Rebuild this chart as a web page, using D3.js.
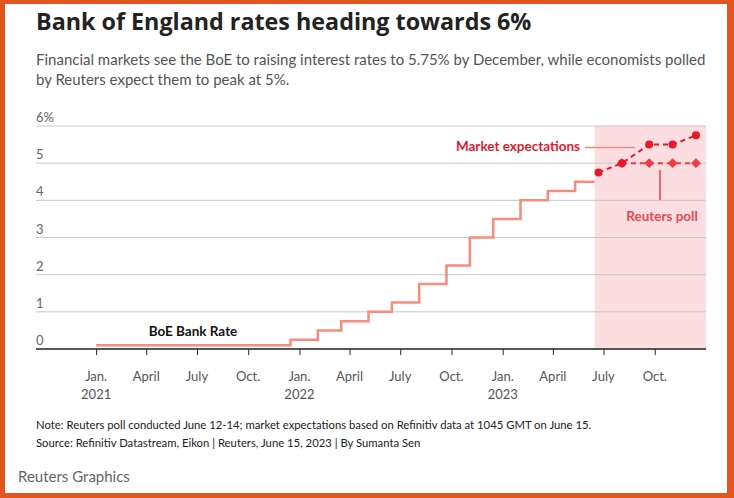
<html>
<head>
<script src="https://d3js.org/d3.v7.min.js"></script>
<style>
  body { margin: 0; background: #fff; }
  svg text { font-family: Lato, "Open Sans", sans-serif; }
</style>
</head>
<body>
<svg width="734" height="498"></svg>
<script>
// BoE bank rate, step changes
var rateDates = ["2021-01-01", "2021-12-16", "2022-02-03", "2022-03-17", "2022-05-05", "2022-06-16",
  "2022-08-04", "2022-09-22", "2022-11-03", "2022-12-15", "2023-02-02", "2023-03-23", "2023-05-11", "2023-06-15"];
var rateValues = [0.1, 0.25, 0.5, 0.75, 1.0, 1.25, 1.75, 2.25, 3.0, 3.5, 4.0, 4.25, 4.5, 4.5];

// forward meetings
var meetingDates = ["2023-06-22", "2023-08-03", "2023-09-21", "2023-11-02", "2023-12-14"];
var marketValues = [4.75, 5.0, 5.5, 5.5, 5.75];
var pollValues = [null, 5.0, 5.0, 5.0, 5.0];

var yTicks = [0, 1, 2, 3, 4, 5, 6];
var xTickDates = ["2021-01-01", "2021-04-01", "2021-07-01", "2021-10-01", "2022-01-01", "2022-04-01",
  "2022-07-01", "2022-10-01", "2023-01-01", "2023-04-01", "2023-07-01", "2023-10-01"];
var xTickLabels = [["Jan.", "2021"], ["April"], ["July"], ["Oct."], ["Jan.", "2022"], ["April"],
  ["July"], ["Oct."], ["Jan.", "2023"], ["April"], ["July"], ["Oct."]];

var parse = d3.timeParse("%Y-%m-%d");
var svg = d3.select("svg");

// orange frame
svg.append("rect").attr("x", 0).attr("y", 0).attr("width", 734).attr("height", 498).attr("fill", "#e0561c");
svg.append("rect").attr("x", 5).attr("y", 4).attr("width", 722).attr("height", 489).attr("fill", "#fff");

svg.append("text").attr("x", 36).attr("y", 30)
  .attr("font-size", 23.3).attr("font-weight", 700).attr("fill", "#222")
  .style("font-family", "'Open Sans', sans-serif")
  .text("Bank of England rates heading towards 6%");
svg.append("text").attr("x", 36).attr("y", 65).attr("font-size", 15).attr("fill", "#555")
  .text("Financial markets see the BoE to raising interest rates to 5.75% by December, while economists polled");
svg.append("text").attr("x", 36).attr("y", 85).attr("font-size", 15).attr("fill", "#555")
  .text("by Reuters expect them to peak at 5%.");

var x = d3.scaleTime().domain([parse("2020-09-15"), parse("2024-01-01")]).range([36, 706]);
var y = d3.scaleLinear().domain([0, 6]).range([349, 126]);

// forecast shading
svg.append("rect")
  .attr("x", x(parse("2023-06-15"))).attr("y", y(6))
  .attr("width", x(parse("2024-01-01")) - x(parse("2023-06-15")))
  .attr("height", y(0) - y(6))
  .attr("fill", "#fcdde0");

// gridlines
svg.append("g").selectAll("line").data(yTicks.filter(function (d) { return d > 0; })).enter()
  .append("line")
  .attr("x1", 36).attr("x2", 706)
  .attr("y1", function (d) { return y(d); }).attr("y2", function (d) { return y(d); })
  .attr("stroke", "#c8c8c8").attr("stroke-width", 1);

svg.append("g").selectAll("text").data(yTicks).enter()
  .append("text")
  .attr("x", 36).attr("y", function (d) { return y(d) - 4; })
  .attr("font-size", 13).attr("fill", "#666")
  .text(function (d) { return d === 6 ? "6%" : d; });

// x axis
var xAxis = d3.axisBottom(x).tickValues(xTickDates.map(parse)).tickSize(6).tickFormat("");
var gx = svg.append("g").attr("transform", "translate(0," + y(0) + ")").call(xAxis);
gx.select(".domain").attr("stroke", "#222").attr("stroke-width", 1.5).attr("d", "M36,0H706");
gx.selectAll(".tick line").attr("stroke", "#222");

var xl = svg.append("g").selectAll("text").data(xTickDates).enter()
  .append("text")
  .attr("x", function (d) { return x(parse(d)); })
  .attr("y", 381)
  .attr("text-anchor", "middle").attr("font-size", 13).attr("fill", "#555");
xl.each(function (d, i) {
  var t = d3.select(this);
  xTickLabels[i].forEach(function (s, j) {
    t.append("tspan").attr("x", x(parse(d))).attr("dy", j === 0 ? 0 : 18).text(s);
  });
});

// bank rate step line
var rate = rateDates.map(function (d, i) { return { date: parse(d), v: rateValues[i] }; });
svg.append("path").datum(rate)
  .attr("fill", "none").attr("stroke", "#f98b7c").attr("stroke-width", 2.5)
  .attr("d", d3.line().curve(d3.curveStepAfter)
    .x(function (d) { return x(d.date); }).y(function (d) { return y(d.v); }));

var meet = meetingDates.map(function (d, i) { return { date: parse(d), m: marketValues[i], p: pollValues[i] }; });
var red = "#e8192c";

// reuters poll
var poll = meet.filter(function (d) { return d.p !== null; });
svg.append("path").datum(poll)
  .attr("fill", "none").attr("stroke", "#ee3b47").attr("stroke-width", 2).attr("stroke-dasharray", "5,4")
  .attr("d", d3.line().x(function (d) { return x(d.date); }).y(function (d) { return y(d.p); }));
svg.append("g").selectAll("path").data(poll).enter()
  .append("path")
  .attr("transform", function (d) { return "translate(" + x(d.date) + "," + y(d.p) + ") rotate(45)"; })
  .attr("d", "M-3.5,-3.5H3.5V3.5H-3.5Z")
  .attr("fill", "#ee3b47");

// market expectations
svg.append("path").datum(meet)
  .attr("fill", "none").attr("stroke", red).attr("stroke-width", 2).attr("stroke-dasharray", "5,4")
  .attr("d", d3.line().x(function (d) { return x(d.date); }).y(function (d) { return y(d.m); }));
svg.append("g").selectAll("circle").data(meet).enter()
  .append("circle")
  .attr("cx", function (d) { return x(d.date); }).attr("cy", function (d) { return y(d.m); })
  .attr("r", 4).attr("fill", red);

// annotations
svg.append("text").attr("x", 580).attr("y", 151).attr("text-anchor", "end")
  .attr("font-size", 13.5).attr("font-weight", 700).attr("fill", red).text("Market expectations");
svg.append("line").attr("x1", 585).attr("x2", 635).attr("y1", 147.5).attr("y2", 147.5)
  .attr("stroke", "#f08a84").attr("stroke-width", 1.5);
svg.append("line").attr("x1", 660).attr("x2", 660).attr("y1", 170).attr("y2", 200)
  .attr("stroke", "#ee3b47").attr("stroke-width", 1.5);
svg.append("text").attr("x", 662).attr("y", 221).attr("text-anchor", "middle")
  .attr("font-size", 13.5).attr("font-weight", 700).attr("fill", "#ea4753").text("Reuters poll");
svg.append("text").attr("x", 193).attr("y", 336).attr("text-anchor", "middle")
  .attr("font-size", 13.5).attr("font-weight", 700).attr("fill", "#111").text("BoE Bank Rate");

// footer
svg.append("text").attr("x", 36).attr("y", 429).attr("font-size", 11.3).attr("fill", "#222")
  .text("Note: Reuters poll conducted June 12-14; market expectations based on Refinitiv data at 1045 GMT on June 15.");
svg.append("text").attr("x", 36).attr("y", 447).attr("font-size", 11.3).attr("fill", "#222")
  .text("Source: Refinitiv Datastream, Eikon | Reuters, June 15, 2023 | By Sumanta Sen");
svg.append("text").attr("x", 18).attr("y", 482).attr("font-size", 15).attr("fill", "#666")
  .text("Reuters Graphics");
</script>
</body>
</html>
